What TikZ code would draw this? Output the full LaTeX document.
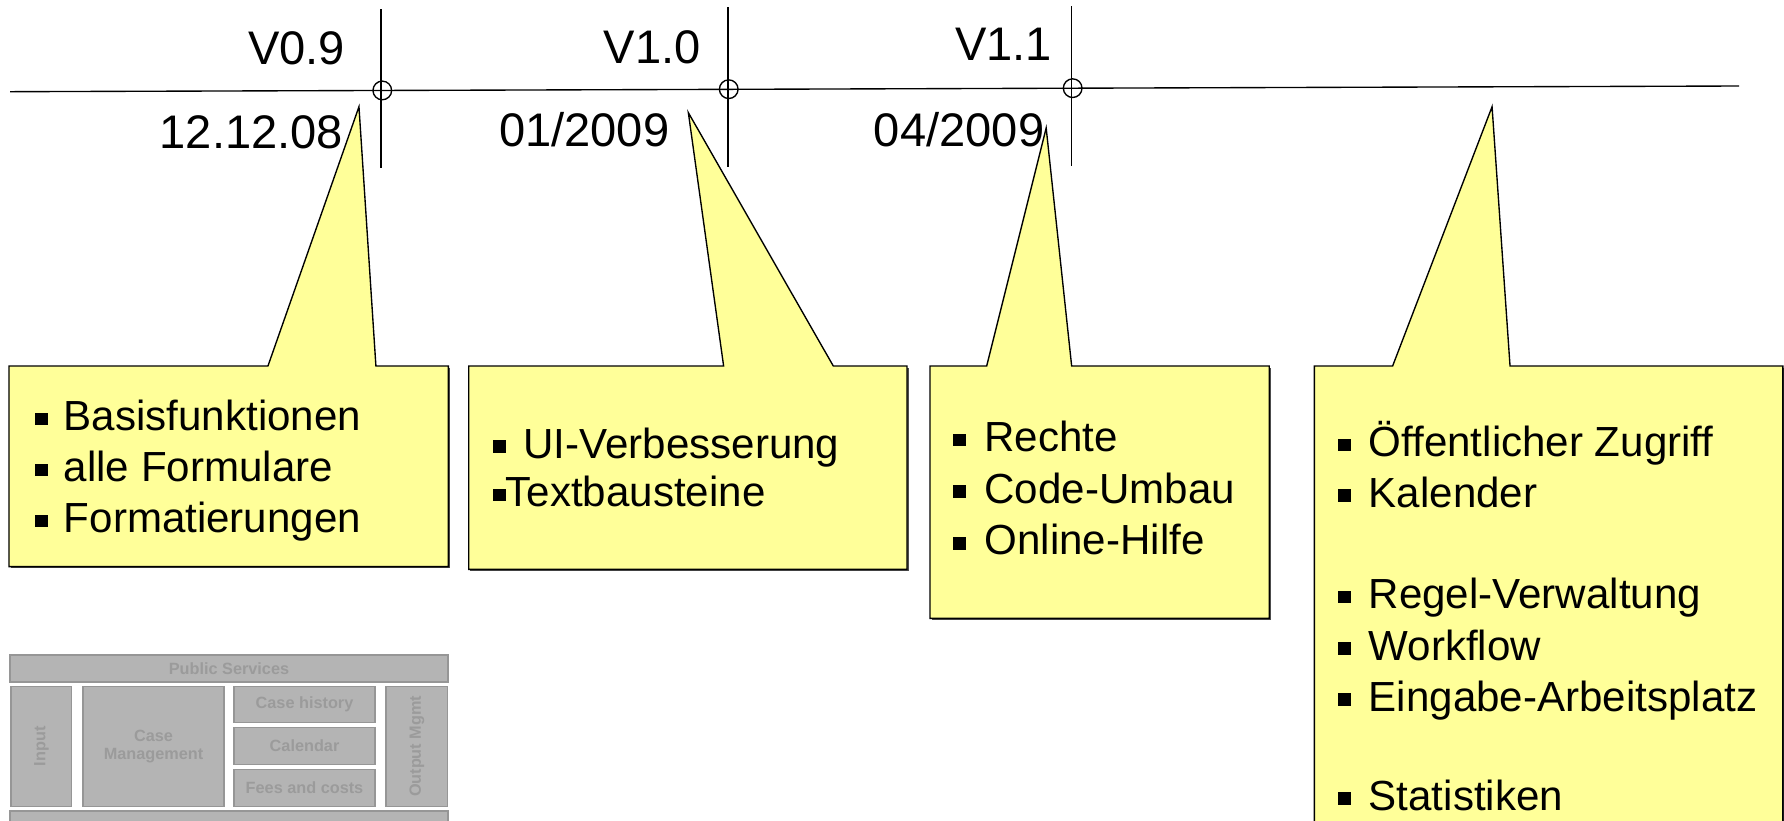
\documentclass[tikz,border=0pt]{standalone}
\usepackage{fontspec}
\setmainfont{Liberation Sans}
\definecolor{note}{HTML}{FFFF99}
\definecolor{gfill}{HTML}{B4B4B4}
\definecolor{gline}{HTML}{969696}
\definecolor{gtext}{HTML}{9B9B9B}
\newcommand\mybullet{\rule[0.13em]{0.3em}{0.3em}}
\begin{document}
\begin{tikzpicture}[x=0.5pt,y=-0.5pt,
  axis/.style={line width=0.6pt},
  ring/.style={circle,draw,line width=0.6pt,minimum size=8.2pt,inner sep=0pt},
  vlabel/.style={font=\fontsize{20.7pt}{24pt}\selectfont, inner sep=0pt, anchor=base east},
  callout/.style={fill=note,draw=black,line width=0.6pt,line join=miter},
  shadowbox/.style={fill=black!70},
  item/.style={font=\fontsize{18.5pt}{22pt}\selectfont, inner sep=0pt, anchor=base west},
  gbox/.style={fill=gfill,draw=gline,line width=0.5pt,inner sep=0pt,text=gtext,
    font=\fontsize{7.15pt}{8pt}\selectfont\bfseries,align=center}
]
\useasboundingbox (0,0) rectangle (1568,721);
\clip (0,0) rectangle (1568,721);

% timeline
\coordinate (L) at (8.8,80.6);
\coordinate (R) at (1528.5,75.6);
\draw[axis] (L) -- (R);
\coordinate (m1a) at (335,8.2);   \coordinate (m1b) at (335,148);
\coordinate (m2a) at (639.8,6.4); \coordinate (m2b) at (639.8,146.5);
\coordinate (m3a) at (941.9,5.3); \coordinate (m3b) at (941.9,145.9);
\draw[axis] (m1a) -- (m1b);
\draw[axis] (m2a) -- (m2b);
\draw[axis] (m3a) -- (m3b);
\node[ring] (c1) at (336,79.5) {};
\node[ring] (c2) at (640.5,78.4) {};
\node[ring] (c3) at (942.8,77.5) {};

\node[vlabel] (v09) at (303.7,57.1) {V0.9};
\node[vlabel] (d09) at (302,130.4) {12.12.08};
\node[vlabel] (v10) at (616.4,55.7) {V1.0};
\node[vlabel] (d10) at (588.7,128.9) {01/2009};
\node[vlabel] (v11) at (925,53.3) {V1.1};
\node[vlabel] (d11) at (918.2,128.9) {04/2009};

% callout 1
\coordinate (t1) at (315.5,93.8);
\fill[shadowbox] (9.4,323.2) rectangle (395.6,499.5);
\draw[callout] (7.9,321.7) -- (235.5,321.7) -- (t1) -- (330.4,321.7) -- (394.1,321.7) -- (394.1,498) -- (7.9,498) -- cycle;
\node[item] (a1) at (30.6,378.5) {\mybullet\hspace{0.38em}Basisfunktionen};
\node[item] (a2) at (30.6,423.3) {\mybullet\hspace{0.38em}alle Formulare};
\node[item] (a3) at (30.6,468.2) {\mybullet\hspace{0.38em}Formatierungen};

% callout 2
\coordinate (t2) at (605,99);
\fill[shadowbox] (413.5,323.2) rectangle (798.7,501.9);
\draw[callout] (412,321.7) -- (636,321.7) -- (t2) -- (732.4,321.7) -- (797.2,321.7) -- (797.2,500.4) -- (412,500.4) -- cycle;
\node[item] (b1) at (433,402.8) {\mybullet\hspace{0.42em}UI-Verbesserung};
\node[item] (b2) at (433,445.3) {\mybullet Textbausteine};

% callout 3
\coordinate (t3) at (919.5,112.5);
\fill[shadowbox] (818.9,323.2) rectangle (1117.1,545);
\draw[callout] (817.4,321.7) -- (867.2,321.7) -- (t3) -- (941.9,321.7) -- (1115.6,321.7) -- (1115.6,543.5) -- (817.4,543.5) -- cycle;
\node[item] (r1) at (837.6,397) {\mybullet\hspace{0.44em}Rechte};
\node[item] (r2) at (837.6,442.4) {\mybullet\hspace{0.44em}Code-Umbau};
\node[item] (r3) at (837.6,487.8) {\mybullet\hspace{0.44em}Online-Hilfe};

% callout 4
\coordinate (t4) at (1311.4,93.8);
\fill[shadowbox] (1156.7,323.2) rectangle (1568.5,770);
\draw[callout] (1155.2,321.7) -- (1224,321.7) -- (t4) -- (1327.2,321.7) -- (1567,321.7) -- (1567,760) -- (1155.2,760) -- cycle;
\node[item] (s1) at (1176,401.4) {\mybullet\hspace{0.42em}Öffentlicher Zugriff};
\node[item] (s2) at (1176,445.9) {\mybullet\hspace{0.42em}Kalender};
\node[item] (s3) at (1176,535.2) {\mybullet\hspace{0.42em}Regel-Verwaltung};
\node[item] (s4) at (1176,580.5) {\mybullet\hspace{0.42em}Workflow};
\node[item] (s5) at (1176,625) {\mybullet\hspace{0.42em}Eingabe-Arbeitsplatz};
\node[item] (s6) at (1176,712) {\mybullet\hspace{0.42em}Statistiken};

% grey architecture sketch
\node[gbox,minimum width=192.45pt,minimum height=11.85pt] (ps) at (201.25,587.55) {Public Services};
\node[gbox,rotate=90,minimum width=53pt,minimum height=26.65pt] (inp) at (36.35,656) {Input};
\node[gbox,minimum width=61.95pt,minimum height=53pt] (cm) at (134.95,656) {Case\\Management};
\node[gbox,minimum width=61.95pt,minimum height=16pt] (ch) at (267.65,619) {Case history};
\node[gbox,minimum width=61.95pt,minimum height=16.1pt] (cal) at (267.65,655.7) {Calendar};
\node[gbox,minimum width=61.95pt,minimum height=16.4pt] (fee) at (267.65,692.6) {Fees and costs};
\node[gbox,rotate=90,minimum width=53pt,minimum height=27.1pt] (out) at (366.4,656) {Output Mgmt};
\node[gbox,minimum width=192.45pt,minimum height=11.85pt] (bot) at (201.25,724.65) {};
\end{tikzpicture}
\end{document}
